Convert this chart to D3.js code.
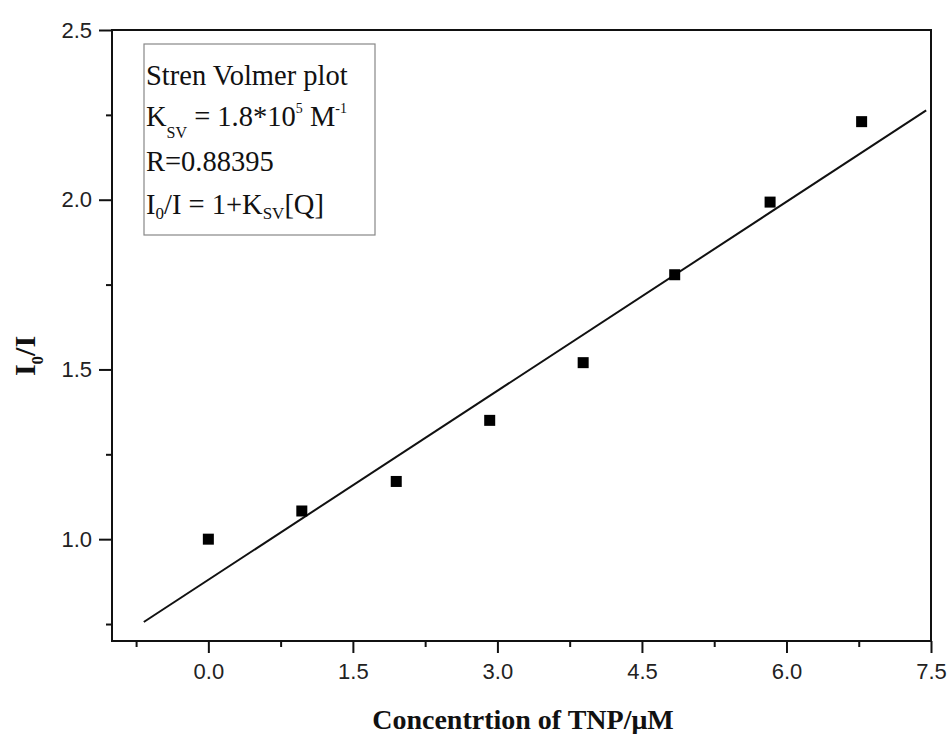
<!doctype html>
<html lang="en">

<head>
    <meta charset="utf-8">
    <title>Stern Volmer plot</title>
    <script src="https://d3js.org/d3.v7.min.js"></script>
    <style>
        body {
            margin: 0;
            background: white;
        }
    </style>
</head>

<body>
    <svg id="svg"></svg>

    <script>
        let conc = [0.0, 0.97, 1.95, 2.92, 3.89, 4.84, 5.83, 6.78];
        let ratio = [1.0, 1.083, 1.17, 1.35, 1.52, 1.779, 1.993, 2.23];
        // end points of the drawn fit line
        let fitX = [-0.67, 7.45];
        let fitY = [0.756, 2.263];

        let xMajor = [0.0, 1.5, 3.0, 4.5, 6.0, 7.5];
        let xMinor = [-0.75, 0.75, 2.25, 3.75, 5.25, 6.75];
        let yMajor = [1.0, 1.5, 2.0, 2.5];
        let yMinor = [0.75, 1.25, 1.75, 2.25];

        let width = 951, height = 734;
        let margin = { top: 30, right: 20, bottom: 93, left: 112 };

        let svg = d3.select("#svg").attr("width", width).attr("height", height);

        let xScale = d3.scaleLinear().domain([-1, 7.5]).range([margin.left, width - margin.right]);
        let yScale = d3.scaleLinear().domain([0.7, 2.5]).range([height - margin.bottom, margin.top]);

        let fmt = d3.format(".1f");

        // axes: major + minor ticks, labels in sans
        svg.append("g").attr("transform", `translate(0, ${height - margin.bottom})`)
            .call(d3.axisBottom(xScale).tickValues(xMajor).tickFormat(fmt).tickSize(12).tickPadding(10).tickSizeOuter(0));
        svg.append("g").attr("transform", `translate(0, ${height - margin.bottom})`)
            .call(d3.axisBottom(xScale).tickValues(xMinor).tickFormat("").tickSize(6).tickSizeOuter(0));
        svg.append("g").attr("transform", `translate(${margin.left}, 0)`)
            .call(d3.axisLeft(yScale).tickValues(yMajor).tickFormat(fmt).tickSize(13).tickPadding(7).tickSizeOuter(0));
        svg.append("g").attr("transform", `translate(${margin.left}, 0)`)
            .call(d3.axisLeft(yScale).tickValues(yMinor).tickFormat("").tickSize(6).tickSizeOuter(0));

        svg.selectAll(".domain").remove();
        svg.selectAll(".tick line").attr("stroke", "#111").attr("stroke-width", 2);
        svg.selectAll(".tick text")
            .attr("font-family", "Liberation Sans, Arial, sans-serif")
            .attr("font-size", 22)
            .attr("fill", "#222");

        // frame
        svg.append("rect")
            .attr("x", xScale(-1))
            .attr("y", yScale(2.5))
            .attr("width", xScale(7.5) - xScale(-1))
            .attr("height", yScale(0.7) - yScale(2.5))
            .attr("fill", "none")
            .attr("stroke", "#111")
            .attr("stroke-width", 2);

        // fit line
        svg.append("line")
            .attr("x1", xScale(fitX[0]))
            .attr("y1", yScale(fitY[0]))
            .attr("x2", xScale(fitX[1]))
            .attr("y2", yScale(fitY[1]))
            .attr("stroke", "#111")
            .attr("stroke-width", 2);

        // data squares
        let s = 11;
        svg.append("g").selectAll("rect")
            .data(conc)
            .join("rect")
            .attr("x", d => xScale(d) - s / 2)
            .attr("y", (d, i) => yScale(ratio[i]) - s / 2)
            .attr("width", s)
            .attr("height", s)
            .attr("fill", "#000");

        // legend box
        let legend = svg.append("g")
            .attr("font-family", "Liberation Serif, Times New Roman, serif")
            .attr("font-size", 28.5)
            .attr("fill", "#111");

        legend.append("rect")
            .attr("x", 144).attr("y", 44)
            .attr("width", 231).attr("height", 191)
            .attr("fill", "white")
            .attr("stroke", "#888")
            .attr("stroke-width", 1.2);

        let tx = 146;
        legend.append("text").attr("x", tx).attr("y", 85).text("Stren Volmer plot");

        let l2 = legend.append("text").attr("x", tx).attr("y", 126);
        l2.append("tspan").text("K");
        l2.append("tspan").attr("font-size", 16).attr("dy", 12).text("SV");
        l2.append("tspan").attr("dy", -12).text(" = 1.8*10");
        l2.append("tspan").attr("font-size", 14).attr("dy", -13).text("5");
        l2.append("tspan").attr("dy", 13).text(" M");
        l2.append("tspan").attr("font-size", 14).attr("dy", -13).text("-1");

        legend.append("text").attr("x", tx).attr("y", 171).text("R=0.88395");

        let l4 = legend.append("text").attr("x", tx).attr("y", 214);
        l4.append("tspan").text("I");
        l4.append("tspan").attr("font-size", 17).attr("dy", 5).text("0");
        l4.append("tspan").attr("dy", -5).text("/I = 1+K");
        l4.append("tspan").attr("font-size", 17).attr("dy", 5).text("SV");
        l4.append("tspan").attr("dy", -5).text("[Q]");

        // axis titles
        svg.append("text")
            .attr("x", 523)
            .attr("y", 729)
            .attr("text-anchor", "middle")
            .attr("font-family", "Liberation Serif, Times New Roman, serif")
            .attr("font-weight", "bold")
            .attr("font-size", 28)
            .attr("fill", "#111")
            .text("Concentrtion of TNP/\u03bcM");

        let yTitle = svg.append("text")
            .attr("transform", `translate(35, 356) rotate(-90)`)
            .attr("text-anchor", "middle")
            .attr("font-family", "Liberation Serif, Times New Roman, serif")
            .attr("font-weight", "bold")
            .attr("font-size", 30)
            .attr("fill", "#111");
        yTitle.append("tspan").text("I");
        yTitle.append("tspan").attr("font-size", 17).attr("dy", 8).text("0");
        yTitle.append("tspan").attr("dy", -8).text("/I");
    </script>
</body>

</html>
